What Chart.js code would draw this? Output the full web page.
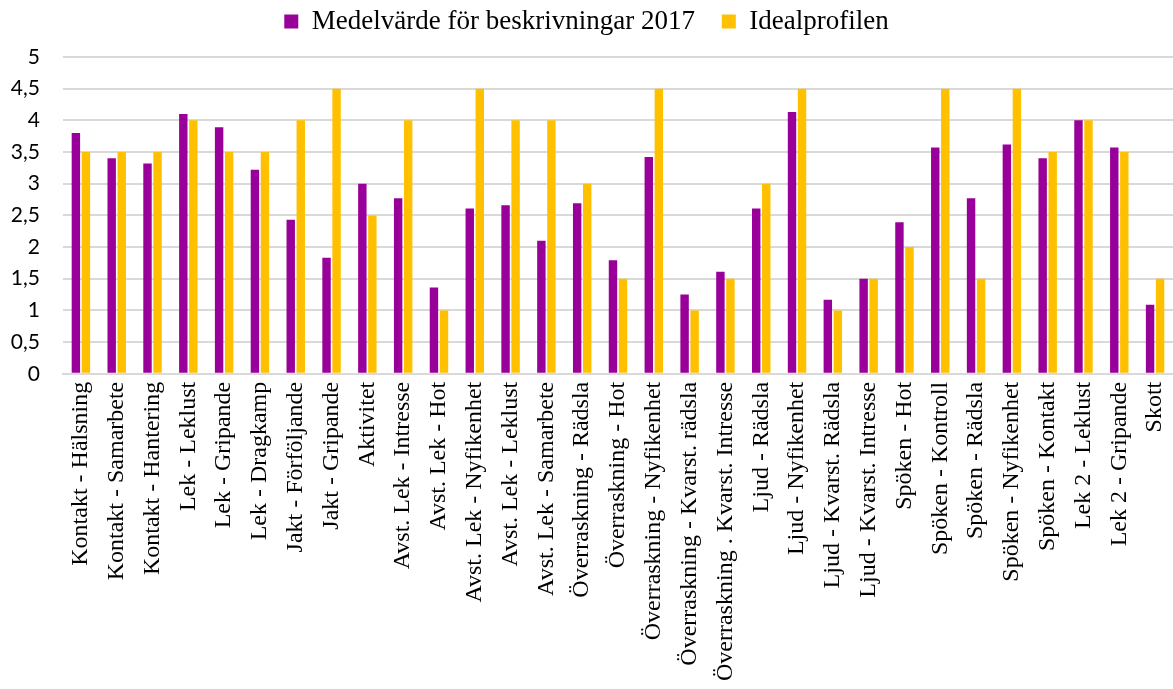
<!DOCTYPE html>
<html>
<head>
<meta charset="utf-8">
<script src="https://cdn.jsdelivr.net/npm/chart.js@4"></script>
<style>
    html, body { margin: 0; padding: 0; background: #fff; }
    #wrap { width: 1173px; height: 689px; }
</style>
</head>
<body>
<div id="wrap"><canvas id="myChart"></canvas></div>
<script>
var categories = ['Kontakt - Hälsning', 'Kontakt - Samarbete', 'Kontakt - Hantering', 'Lek - Leklust', 'Lek - Gripande',
    'Lek - Dragkamp', 'Jakt - Förföljande', 'Jakt - Gripande', 'Aktivitet', 'Avst. Lek - Intresse',
    'Avst. Lek - Hot', 'Avst. Lek - Nyfikenhet', 'Avst. Lek - Leklust', 'Avst. Lek - Samarbete', 'Överraskning - Rädsla',
    'Överraskning - Hot', 'Överraskning - Nyfikenhet', 'Överraskning - Kvarst. rädsla', 'Överraskning . Kvarst. Intresse', 'Ljud - Rädsla',
    'Ljud - Nyfikenhet', 'Ljud - Kvarst. Rädsla', 'Ljud - Kvarst. Intresse', 'Spöken - Hot', 'Spöken - Kontroll',
    'Spöken - Rädsla', 'Spöken - Nyfikenhet', 'Spöken - Kontakt', 'Lek 2 - Leklust', 'Lek 2 - Gripande', 'Skott'];

var medelvarde = [3.80, 3.40, 3.32, 4.10, 3.89, 3.22, 2.43, 1.83, 3.00, 2.77,
    1.36, 2.61, 2.66, 2.10, 2.69, 1.79, 3.42, 1.25, 1.61, 2.61,
    4.13, 1.17, 1.50, 2.39, 3.57, 2.77, 3.62, 3.40, 4.00, 3.57, 1.09];

var idealprofil = [3.5, 3.5, 3.5, 4.0, 3.5, 3.5, 4.0, 4.5, 2.5, 4.0,
    1.0, 4.5, 4.0, 4.0, 3.0, 1.5, 4.5, 1.0, 1.5, 3.0,
    4.5, 1.0, 1.5, 2.0, 4.5, 1.5, 4.5, 3.5, 4.0, 3.5, 1.5];

var yTickLabels = ['0', '0,5', '1', '1,5', '2', '2,5', '3', '3,5', '4', '4,5', '5'];

// extra space under the legend
var legendMargin = {
    id: 'legendMargin',
    beforeInit: function (chart) {
        var fit = chart.legend.fit;
        chart.legend.fit = function () {
            fit.bind(chart.legend)();
            this.height += 12;
        };
    }
};

const ctx = document.getElementById('myChart').getContext('2d');
const myChart = new Chart(ctx, {
    type: 'bar',
    data: {
        labels: categories,
        datasets: [{
            label: 'Medelvärde för beskrivningar 2017',
            data: medelvarde,
            backgroundColor: '#990099',
            borderWidth: 0,
            categoryPercentage: 0.56,
            barPercentage: 0.84
        }, {
            label: 'Idealprofilen',
            data: idealprofil,
            backgroundColor: '#FFC000',
            borderWidth: 0,
            categoryPercentage: 0.56,
            barPercentage: 0.84
        }]
    },
    options: {
        responsive: true,
        maintainAspectRatio: false,
        animation: false,
        layout: { padding: { left: 0, right: 0, top: 0, bottom: 0 } },
        plugins: {
            legend: {
                position: 'top',
                labels: {
                    color: '#000',
                    font: { family: '"Liberation Serif", "Times New Roman", serif', size: 27 },
                    boxWidth: 14,
                    boxHeight: 14,
                    padding: 8,
                    // wider gap between the two items
                    generateLabels: function (chart) {
                        var items = Chart.defaults.plugins.legend.labels.generateLabels(chart);
                        items[0].text = items[0].text + '\u2002\u2009';
                        return items;
                    }
                }
            },
            tooltip: { enabled: false }
        },
        scales: {
            x: {
                grid: { display: false, drawTicks: false },
                border: { color: '#d9d9d9', width: 2 },
                afterFit: function (scale) {
                    scale.paddingLeft = 0;
                    scale.paddingRight = 0;
                },
                ticks: {
                    color: '#000',
                    autoSkip: false,
                    maxRotation: 90,
                    minRotation: 90,
                    padding: 8,
                    font: { family: '"Liberation Serif", "Times New Roman", serif', size: 24 }
                }
            },
            y: {
                min: 0,
                max: 5,
                grid: { color: '#d9d9d9', lineWidth: 2, drawTicks: false },
                border: { display: false },
                afterFit: function (scale) {
                    scale.width = 63;
                },
                ticks: {
                    stepSize: 0.5,
                    color: '#000',
                    padding: 23,
                    font: { family: 'Lato, "Open Sans", sans-serif', size: 21 },
                    callback: function (value, index) {
                        return yTickLabels[index];
                    }
                }
            }
        }
    },
    plugins: [legendMargin]
});
</script>
</body>
</html>
